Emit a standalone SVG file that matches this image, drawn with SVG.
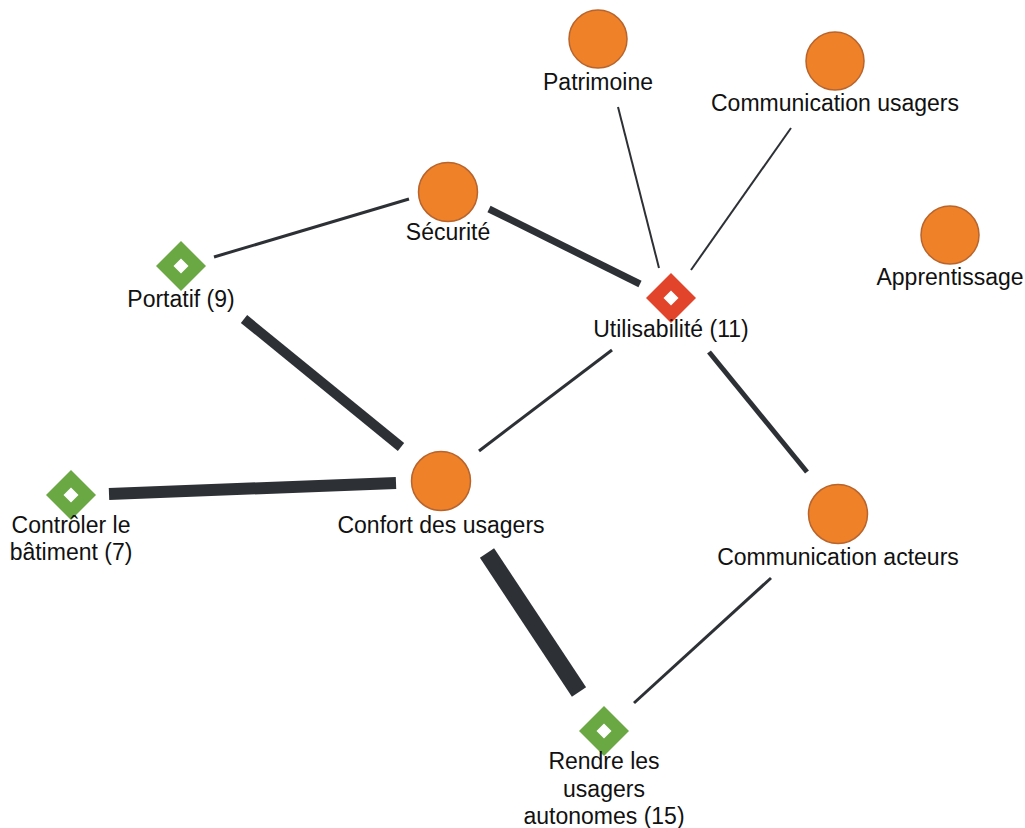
<svg xmlns="http://www.w3.org/2000/svg" width="1025" height="828" viewBox="0 0 1025 828">
<defs>
<style>
.c{fill:#ef8128;stroke:#b8642c;stroke-width:1.5}
.dg{fill:#6aa843}
.dr{fill:#e2442b}
.in{fill:#ffffff}
.e{stroke:#2d3135;fill:none;stroke-linecap:butt}
text{font-family:"Liberation Sans",Arial,sans-serif;font-size:23px;fill:#111;text-anchor:middle}
</style>
<g id="dia"><polygon points="0,-25 25,0 0,25 -25,0"/></g>
<polygon id="hole" class="in" points="0,-7.5 7.5,0 0,7.5 -7.5,0"/>
</defs>
<rect width="1025" height="828" fill="#ffffff"/>
<g id="connectors">
<line class="e" x1="214" y1="257" x2="409" y2="199" stroke-width="3"/>
<line class="e" x1="489" y1="209" x2="640" y2="284" stroke-width="7"/>
<line class="e" x1="618" y1="107" x2="659" y2="268" stroke-width="2"/>
<line class="e" x1="791" y1="128" x2="691" y2="270" stroke-width="2"/>
<line class="e" x1="612" y1="350" x2="479" y2="451" stroke-width="3"/>
<line class="e" x1="709" y1="352" x2="807" y2="472" stroke-width="5"/>
<line class="e" x1="244" y1="319" x2="401" y2="447" stroke-width="10"/>
<line class="e" x1="109" y1="494" x2="396" y2="483" stroke-width="12"/>
<line class="e" x1="487" y1="553" x2="579" y2="692" stroke-width="17"/>
<line class="e" x1="771" y1="578" x2="634" y2="703" stroke-width="3"/>
</g>
<g id="patrimoine"><circle class="c" cx="598" cy="39" r="29"/><text x="598" y="90">Patrimoine</text></g>
<g id="communication-usagers"><circle class="c" cx="835" cy="61" r="29"/><text x="835" y="111">Communication usagers</text></g>
<g id="securite"><circle class="c" cx="448" cy="192" r="29.5"/><text x="448" y="240">Sécurité</text></g>
<g id="apprentissage"><circle class="c" cx="950" cy="235" r="29"/><text x="950" y="285">Apprentissage</text></g>
<g id="portatif"><use href="#dia" class="dg" x="181" y="266"/><use href="#hole" x="181" y="266"/><text x="181" y="307">Portatif (9)</text></g>
<g id="utilisabilite"><use href="#dia" class="dr" x="671" y="298"/><use href="#hole" x="671" y="298"/><text x="671" y="337">Utilisabilité (11)</text></g>
<g id="confort"><circle class="c" cx="441" cy="481" r="29.5"/><text x="441" y="533">Confort des usagers</text></g>
<g id="communication-acteurs"><circle class="c" cx="838" cy="514" r="29.5"/><text x="838" y="565">Communication acteurs</text></g>
<g id="controler"><use href="#dia" class="dg" x="71" y="495"/><use href="#hole" x="71" y="495"/><text x="71" y="533">Contrôler le</text><text x="71" y="560">bâtiment (7)</text></g>
<g id="rendre"><use href="#dia" class="dg" x="604" y="731"/><use href="#hole" x="604" y="731"/><text x="604" y="769">Rendre les</text><text x="604" y="797">usagers</text><text x="604" y="824">autonomes (15)</text></g>
</svg>
